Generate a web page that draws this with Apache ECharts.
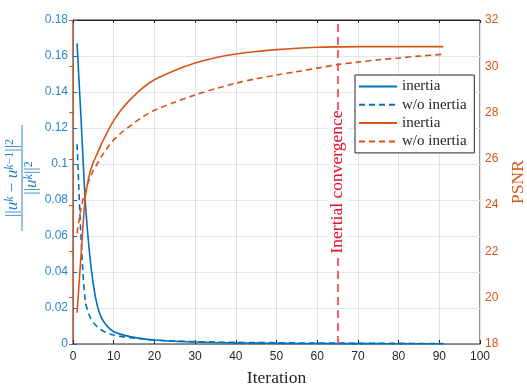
<!DOCTYPE html>
<html style='height: 100%'>
<head>
    <meta charset='utf-8'>
</head>
<body style='height: 100%; margin: 0'>
    <div id='container' style='height: 100%'></div>
    <script type='text/javascript' src='https://cdn.jsdelivr.net/npm/echarts@6/dist/echarts.min.js'></script>
    <script type="text/javascript">

// iterations sampled along the curves
var iterations = [1, 2, 3, 4, 5, 6, 7, 8, 9, 10, 12, 14, 17, 20, 25, 30, 35, 40, 45, 50, 55, 60, 65, 70, 75, 80, 85, 91];

// relative change ||u^k - u^{k-1}||^2 / ||u^k||^2 (left axis)
var resInertia   = [0.167, 0.124, 0.080, 0.052, 0.033, 0.021, 0.0145, 0.011, 0.0085, 0.0068, 0.0052, 0.0041, 0.0030, 0.0022, 0.0015, 0.0011, 0.0008, 0.0006, 0.0005, 0.0004, 0.0003, 0.0003, 0.0002, 0.0002, 0.0002, 0.0001, 0.0001, 0.0001];
var resNoInertia = [0.111, 0.058, 0.024, 0.016, 0.012, 0.0095, 0.0078, 0.0065, 0.0057, 0.0050, 0.0041, 0.0035, 0.0028, 0.0022, 0.0017, 0.0013, 0.0011, 0.0009, 0.0008, 0.0007, 0.0006, 0.0005, 0.0005, 0.0004, 0.0004, 0.0004, 0.0003, 0.0003];

// PSNR (right axis)
var psnrInertia   = [19.35, 21.9, 24.3, 25.3, 25.85, 26.25, 26.65, 27.0, 27.35, 27.65, 28.15, 28.55, 29.05, 29.42, 29.82, 30.14, 30.37, 30.53, 30.64, 30.72, 30.78, 30.82, 30.84, 30.85, 30.85, 30.85, 30.85, 30.85];
var psnrNoInertia = [22.78, 23.9, 24.6, 25.1, 25.5, 25.8, 26.1, 26.37, 26.6, 26.82, 27.15, 27.42, 27.8, 28.1, 28.45, 28.76, 29.03, 29.27, 29.46, 29.62, 29.77, 29.92, 30.07, 30.18, 30.28, 30.36, 30.44, 30.52];

var convergenceIter = 65;
var convergenceText = 'Inertial convergence';
var legendNames = ['inertia', 'w/o inertia', 'inertia ', 'w/o inertia '];

var blue = '#0072BD';
var blueText = '#2a87cb';
var orange = '#D95319';
var red = '#ff3344';
var serif = 'Liberation Serif';
var sans = 'Liberation Sans';

function pairs(xs, ys) {
    return xs.map(function (x, i) { return [x, ys[i]]; });
}

var dom = document.getElementById("container");
var myChart = echarts.init(dom);

function curve(name, data, color, dashed, axis) {
    return {
        name: name,
        type: 'line',
        yAxisIndex: axis,
        data: data,
        symbol: 'none',
        smooth: 0.3,
        color: color,
        lineStyle: { color: color, width: 1.6, type: dashed ? [6, 4] : 'solid' }
    };
}

var fracRich = {
    b: { fontFamily: serif, fontSize: 17, fill: blueText },
    i: { fontFamily: serif, fontSize: 17, fontStyle: 'italic', fill: blueText },
    s: { fontFamily: serif, fontSize: 12, fontStyle: 'italic', verticalAlign: 'top', fill: blueText },
    n: { fontFamily: serif, fontSize: 12, verticalAlign: 'top', fill: blueText }
};

var option = {
    animation: false,
    grid: {
        left: 73, right: 47, top: 20, bottom: 44, outerBoundsMode: 'none',
        show: true, borderColor: '#262626', borderWidth: 1
    },
    legend: {
        orient: 'vertical',
        left: 355, top: 75,
        data: legendNames,
        backgroundColor: '#fff',
        borderColor: '#262626', borderWidth: 1,
        padding: [4, 4, 4, 3],
        itemWidth: 38, itemHeight: 15, itemGap: 3.3,
        itemStyle: { opacity: 0 },
        textStyle: { fontFamily: serif, fontSize: 15, color: '#262626', lineHeight: 15 }
    },
    xAxis: [{
        type: 'value', min: 0, max: 100, interval: 10,
        name: 'Iteration', nameLocation: 'middle', nameGap: 25,
        nameTextStyle: { fontFamily: serif, fontSize: 17.5, color: '#262626' },
        axisLine: { lineStyle: { color: '#8a8a8a' } },
        axisTick: { inside: true, length: 4, lineStyle: { color: '#262626' } },
        axisLabel: { fontFamily: sans, fontSize: 12, color: '#262626', margin: 7 },
        splitLine: { lineStyle: { color: '#e2e2e2' } }
    }, {
        type: 'value', min: 0, max: 100, interval: 10, position: 'top',
        axisLine: { lineStyle: { color: '#262626' } },
        axisTick: { inside: true, length: 3, lineStyle: { color: '#262626' } },
        axisLabel: { show: false }, splitLine: { show: false }
    }],
    yAxis: [{
        type: 'value', min: 0, max: 0.18, interval: 0.02,
        axisLine: { show: true, lineStyle: { color: blue } },
        axisTick: { show: true, inside: true, length: 4, lineStyle: { color: blue } },
        axisLabel: { fontFamily: sans, fontSize: 12, color: blueText, margin: 5 },
        splitLine: { lineStyle: { color: '#d9eaf5' } }
    }, {
        type: 'value', min: 18, max: 32, interval: 2, position: 'right',
        name: 'PSNR', nameLocation: 'middle', nameRotate: 90, nameGap: 27,
        nameTextStyle: { fontFamily: serif, fontSize: 17.5, color: orange },
        axisLine: { show: true, lineStyle: { color: orange } },
        axisTick: { show: true, inside: true, length: 4, lineStyle: { color: orange } },
        axisLabel: { fontFamily: sans, fontSize: 12, color: orange, margin: 5 },
        splitLine: { show: false }
    }],
    graphic: [{
        type: 'group', x: 22, y: 178, rotation: Math.PI / 2,
        children: [{
            type: 'text', x: 0, y: -1,
            style: {
                text: '{b|||}{i|u}{s|k}{b| − }{i|u}{s|k}{n|−1}{b|||}{n|2}',
                rich: fracRich, fill: blueText, align: 'center', verticalAlign: 'bottom'
            }
        }, {
            type: 'line',
            shape: { x1: -53, y1: 0, x2: 53, y2: 0 },
            style: { stroke: blueText, lineWidth: 1 }
        }, {
            type: 'text', x: 0, y: 1,
            style: {
                text: '{b|||}{i|u}{s|k}{b|||}{n|2}',
                rich: fracRich, fill: blueText, align: 'center', verticalAlign: 'top'
            }
        }]
    }],
    series: [
        curve(legendNames[0], pairs(iterations, resInertia), blue, false, 0),
        curve(legendNames[1], pairs(iterations, resNoInertia), blue, true, 0),
        curve(legendNames[2], pairs(iterations, psnrInertia), orange, false, 1),
        curve(legendNames[3], pairs(iterations, psnrNoInertia), orange, true, 1)
    ]
};

// vertical convergence marker
option.series[2].markLine = {
    silent: true,
    symbol: 'none',
    itemStyle: { color: red },
    lineStyle: { color: red, width: 1.6, type: [8, 5], opacity: 1 },
    label: {
        show: true, position: 'middle', formatter: convergenceText,
        fontFamily: serif, fontSize: 17.5, color: '#e8102a',
        backgroundColor: '#fff', distance: 0, verticalAlign: 'middle'
    },
    data: [{ xAxis: convergenceIter, lineStyle: { color: red } }]
};

if (option && typeof option === "object") {
    myChart.setOption(option, true);
}
       </script>
   </body>
</html>
